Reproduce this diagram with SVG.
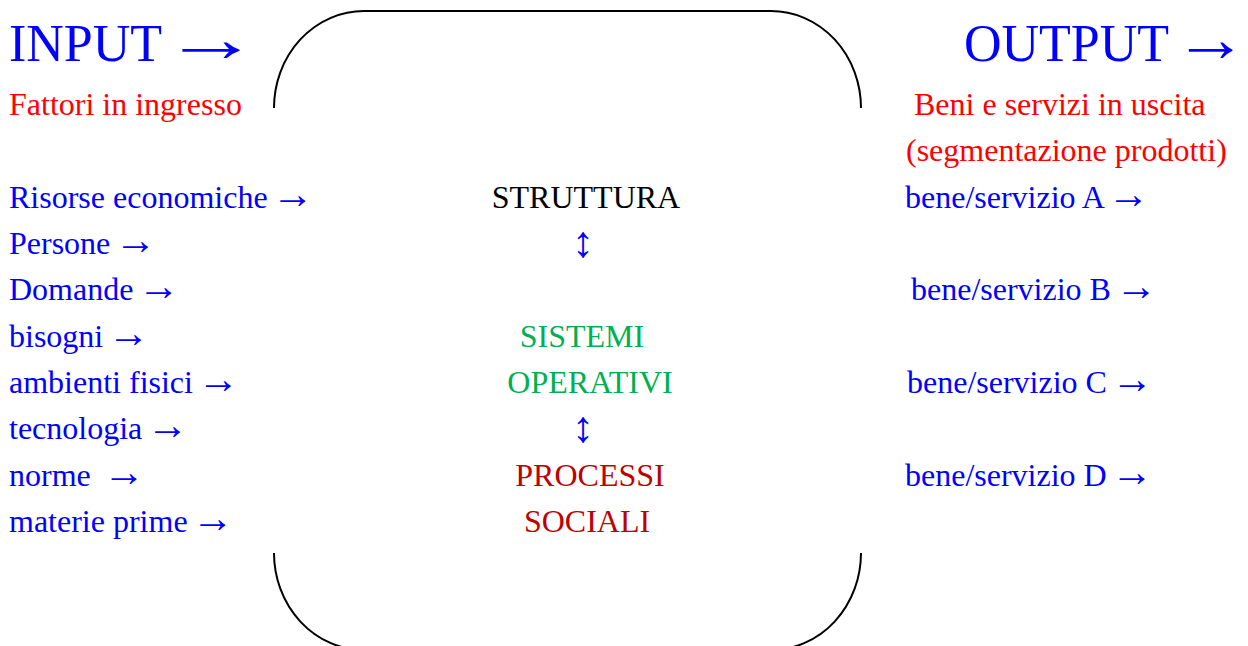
<svg xmlns="http://www.w3.org/2000/svg" width="1248" height="646" viewBox="0 0 1248 646">
<style>
text{font-family:"Liberation Serif","Times New Roman",serif;font-size:32px}
.big{font-size:52px;fill:#0000FF}
.ar{font-size:42px}
.bar{font-size:66px;fill:#0000FF}
.ud{font-size:44px}
.blue{fill:#0000FF}
.red{fill:#FF0000}
.green{fill:#00B050}
.dred{fill:#C00000}
.blk{fill:#000000}
.mid{text-anchor:middle}
.frame{fill:none;stroke:#000;stroke-width:2}
</style>
<rect width="1248" height="646" fill="#fff"/>
<g id="frame">
<path class="frame" d="M274,108 A90,97 0 0 1 364,11 L771,11 A90,97 0 0 1 861,108"/>
<path class="frame" d="M274,553 A90,97 0 0 0 364,650 L771,650 A90,97 0 0 0 861,553"/>
</g>
<g id="input">
<text class="big" x="9" y="61">INPUT</text>
<text class="bar" transform="translate(163,61) scale(1.464,1)" x="0" y="0">→</text>
<text class="red" x="9" y="115">Fattori in ingresso</text>
</g>
<g id="input-list">
<text class="blue" x="9" y="208">Risorse economiche <tspan class="ar" dx="-4">→</tspan></text>
<text class="blue" x="9" y="254">Persone <tspan class="ar" dx="-4">→</tspan></text>
<text class="blue" x="9" y="300">Domande <tspan class="ar" dx="-4">→</tspan></text>
<text class="blue" x="9" y="347">bisogni <tspan class="ar" dx="-4">→</tspan></text>
<text class="blue" x="9" y="393">ambienti fisici <tspan class="ar" dx="-4">→</tspan></text>
<text class="blue" x="9" y="439">tecnologia <tspan class="ar" dx="-4">→</tspan></text>
<text class="blue" x="9" y="486" xml:space="preserve">norme  <tspan class="ar" dx="-4">→</tspan></text>
<text class="blue" x="9" y="532">materie prime <tspan class="ar" dx="-4">→</tspan></text>
</g>
<g id="struttura">
<text class="blk mid" x="586" y="208">STRUTTURA</text>
</g>
<g id="arrow1">
<text class="blue mid ud" x="583" y="257">↕</text>
</g>
<g id="sistemi">
<text class="green mid" x="582" y="347">SISTEMI</text>
<text class="green mid" x="590" y="393">OPERATIVI</text>
</g>
<g id="arrow2">
<text class="blue mid ud" x="583" y="442">↕</text>
</g>
<g id="processi">
<text class="dred mid" x="590" y="486">PROCESSI</text>
<text class="dred mid" x="587" y="532">SOCIALI</text>
</g>
<g id="output">
<text class="big" x="964" y="61">OUTPUT</text>
<text class="bar" transform="translate(1174,61) scale(1.12,1)" x="0" y="0">→</text>
<text class="red" x="914" y="115">Beni e servizi in uscita</text>
<text class="red" x="906" y="161">(segmentazione prodotti)</text>
</g>
<g id="output-list">
<text class="blue" x="905" y="208">bene/servizio A <tspan class="ar" dx="-4">→</tspan></text>
<text class="blue" x="911" y="300">bene/servizio B <tspan class="ar" dx="-4">→</tspan></text>
<text class="blue" x="907" y="393">bene/servizio C <tspan class="ar" dx="-4">→</tspan></text>
<text class="blue" x="905" y="486">bene/servizio D <tspan class="ar" dx="-4">→</tspan></text>
</g>
</svg>
